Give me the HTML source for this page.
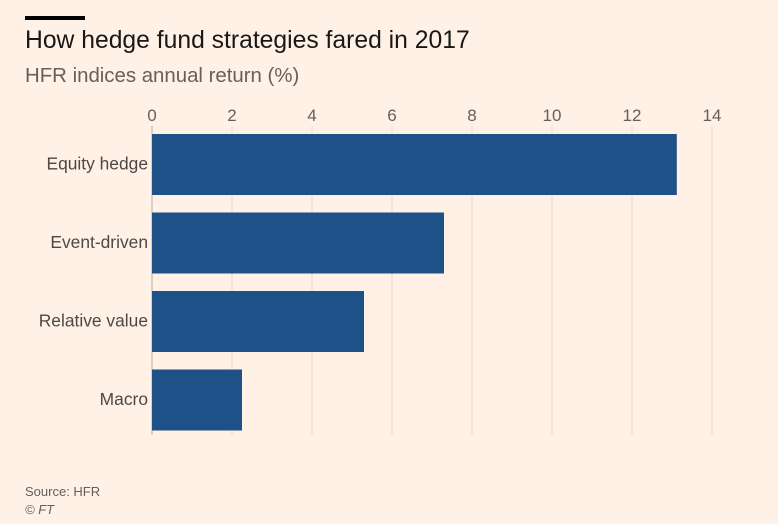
<!DOCTYPE html>
<html><head><meta charset="utf-8"><style>
body{margin:0;background:#fff1e5;font-family:"Liberation Sans",sans-serif;}
#wrap{position:relative;width:778px;height:524px;overflow:hidden;background:#fff1e5}
.t{position:absolute;white-space:nowrap}
</style></head><body>
<div id="wrap">
<div style="position:absolute;left:25px;top:16px;width:60px;height:4px;background:#000"></div>
<div class="t" style="left:25px;top:27px;font-size:24.7px;color:#1a1817">How hedge fund strategies fared in 2017</div>
<div class="t" style="left:25px;top:65px;font-size:20.4px;color:#66605c">HFR indices annual return (%)</div>
<svg id="chart" width="778" height="524" style="position:absolute;left:0;top:0"></svg>
<div class="t" style="left:25px;top:484px;font-size:13px;color:#66605c">Source: HFR</div>
<div class="t" style="left:25px;top:502px;font-size:13px;color:#66605c;font-style:italic">© FT</div>
</div>
<script>
const categories=["Equity hedge","Event-driven","Relative value","Macro"];
const values=[13.12,7.3,5.3,2.25];
const ticks=[0,2,4,6,8,10,12,14];
const svg=document.getElementById('chart');
const NS='http://www.w3.org/2000/svg';
const x=v=>152+v*40;
const bandTop=134,bandStep=78.5,barH=61;
function mk(t,a){const e=document.createElementNS(NS,t);for(const k in a)e.setAttribute(k,a[k]);svg.appendChild(e);return e;}
ticks.forEach(v=>{
 const g=mk('line',{x1:x(v),x2:x(v),y1:126,y2:435,stroke:v===0?'#b8aea6':'#e6d9ce','stroke-width':1});
 
 
 const t=mk('text',{x:x(v),y:121,'text-anchor':'middle','font-size':17,fill:'#66605c','font-family':'Liberation Sans, sans-serif'});
 t.textContent=v;
 
 
});
categories.forEach((c,i)=>{
 const y=bandTop+i*bandStep;
 const r=mk('rect',{x:x(0),y:y,width:x(values[i])-x(0),height:barH,fill:'#1f5189'});
 
 
 const t=mk('text',{x:148,y:y+barH/2+5,'text-anchor':'end','font-size':17.4,fill:'#4d4845','font-family':'Liberation Sans, sans-serif'});
 t.textContent=c;
 
 
});
</script>
</body></html>
